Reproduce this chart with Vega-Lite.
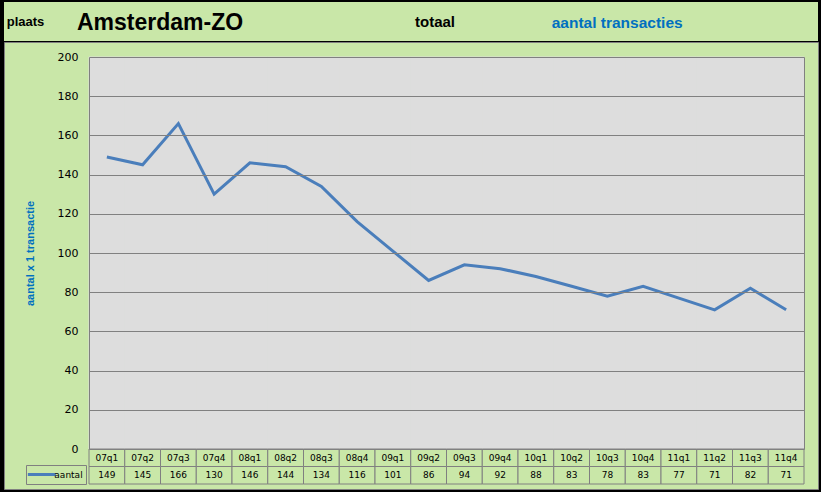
{
  "$schema": "https://vega.github.io/schema/vega-lite/v6.json",
  "background": "#000000",
  "padding": {"left": 3, "top": 2, "right": 4, "bottom": 4},
  "config": {
    "view": {"fill": "#c9e7a8", "stroke": null},
    "font": "Liberation Sans"
  },
  "datasets": {
    "kwartalen": [
      {"kwartaal": "07q1", "aantal": 149},
      {"kwartaal": "07q2", "aantal": 145},
      {"kwartaal": "07q3", "aantal": 166},
      {"kwartaal": "07q4", "aantal": 130},
      {"kwartaal": "08q1", "aantal": 146},
      {"kwartaal": "08q2", "aantal": 144},
      {"kwartaal": "08q3", "aantal": 134},
      {"kwartaal": "08q4", "aantal": 116},
      {"kwartaal": "09q1", "aantal": 101},
      {"kwartaal": "09q2", "aantal": 86},
      {"kwartaal": "09q3", "aantal": 94},
      {"kwartaal": "09q4", "aantal": 92},
      {"kwartaal": "10q1", "aantal": 88},
      {"kwartaal": "10q2", "aantal": 83},
      {"kwartaal": "10q3", "aantal": 78},
      {"kwartaal": "10q4", "aantal": 83},
      {"kwartaal": "11q1", "aantal": 77},
      {"kwartaal": "11q2", "aantal": 71},
      {"kwartaal": "11q3", "aantal": 82},
      {"kwartaal": "11q4", "aantal": 71}
    ]
  },
  "spacing": 0,
  "vconcat": [
    {
      "spacing": 0,
      "hconcat": [
        {"width": 70, "height": 39, "view": {"fill": "#c9e7a8", "stroke": null}, "data": {"values": [{}]}, "mark": {"type": "text", "text": ""}, "encoding": {},
         "title": {"text": "plaats", "anchor": "start", "dx": 2.7, "offset": -36.8, "baseline": "alphabetic", "fontSize": 13, "fontWeight": "bold", "color": "#000000", "font": "Liberation Sans"}},
        {"width": 338, "height": 39, "view": {"fill": "#c9e7a8", "stroke": null}, "data": {"values": [{}]}, "mark": {"type": "text", "text": ""}, "encoding": {},
         "title": {"text": "Amsterdam-ZO", "anchor": "start", "dx": 3, "offset": -50.7, "baseline": "alphabetic", "fontSize": 23, "fontWeight": "bold", "color": "#000000", "font": "Liberation Sans"}},
        {"width": 136, "height": 39, "view": {"fill": "#c9e7a8", "stroke": null}, "data": {"values": [{}]}, "mark": {"type": "text", "text": ""}, "encoding": {},
         "title": {"text": "totaal", "anchor": "start", "dx": 3, "offset": -39.8, "baseline": "alphabetic", "fontSize": 15, "fontWeight": "bold", "color": "#000000", "font": "Liberation Sans"}},
        {"width": 270, "height": 39, "view": {"fill": "#c9e7a8", "stroke": null}, "data": {"values": [{}]}, "mark": {"type": "text", "text": ""}, "encoding": {},
         "title": {"text": "aantal transacties", "anchor": "start", "dx": 3.7, "offset": -41.4, "baseline": "alphabetic", "fontSize": 15.5, "fontWeight": "bold", "color": "#0070c0", "font": "Liberation Sans"}}
      ]
    },
    {
      "width": 814,
      "height": 447,
      "view": {"fill": "#c9e7a8", "stroke": "#808080", "strokeWidth": 1},
      "data": {"name": "kwartalen"},
      "resolve": {"scale": {"y": "independent"}},
      "layer": [
        {
          "mark": {"type": "rect", "fill": "#dddddd", "stroke": "#dddddd", "strokeWidth": 1},
          "encoding": {
            "x": {"field": "kwartaal", "type": "ordinal", "sort": null, "scale": {"type": "band", "range": [85, 800], "paddingInner": 0, "paddingOuter": 0}, "axis": null},
            "y": {"datum": 0, "type": "quantitative", "scale": {"domain": [0, 200], "range": [407, 15]},
                  "axis": {"orient": "right", "offset": -14, "labels": false, "ticks": false, "grid": false, "title": null, "domainColor": "#808080", "zindex": 1}},
            "y2": {"datum": 200}
          }
        },
        {
          "mark": {"type": "line", "strokeWidth": 3},
          "encoding": {
            "x": {"field": "kwartaal", "type": "ordinal", "sort": null, "scale": {"type": "band", "range": [85, 800], "paddingInner": 0, "paddingOuter": 0}, "axis": null},
            "y": {"field": "aantal", "type": "quantitative", "scale": {"domain": [0, 200], "range": [407, 15]},
                  "axis": {"orient": "left", "offset": -85, "tickCount": 10, "ticks": false, "grid": true, "gridColor": "#808080", "gridOpacity": 1, "gridWidth": 1,
                           "domainColor": "#808080", "labelFont": "DejaVu Sans", "labelFontSize": 11, "labelColor": "#000000", "labelPadding": 11,
                           "title": "aantal x 1 transactie", "titleFont": "Liberation Sans", "titleFontSize": 11, "titleFontWeight": "bold", "titleColor": "#0070c0", "titlePadding": 22, "zindex": 1}},
            "color": {"datum": "aantal", "type": "nominal", "scale": {"range": ["#4a7ebb"]},
                      "legend": {"title": null, "orient": "none", "legendX": 22, "legendY": 463, "symbolType": "M-2.8,0H2.8", "symbolSize": 100, "symbolStrokeWidth": 3, "symbolOffset": 6.35,
                                 "labelFont": "DejaVu Sans", "labelFontSize": 9, "labelColor": "#000000", "labelOffset": 6, "padding": 3, "strokeColor": "#808080"}}
          }
        },
        {
          "transform": [{"fold": ["kwartaal", "aantal"], "as": ["rij", "waarde"]}],
          "mark": {"type": "rect", "fill": "#c9e7a8", "stroke": "#808080", "strokeWidth": 1},
          "encoding": {
            "x": {"field": "kwartaal", "type": "ordinal", "sort": null, "scale": {"type": "band", "range": [85, 800], "paddingInner": 0, "paddingOuter": 0}, "axis": null},
            "y": {"field": "rij", "type": "nominal", "scale": {"type": "band", "domain": ["kwartaal", "aantal"], "range": [407, 442], "paddingInner": 0, "paddingOuter": 0}, "axis": null}
          }
        },
        {
          "transform": [{"fold": ["kwartaal", "aantal"], "as": ["rij", "waarde"]}],
          "mark": {"type": "text", "font": "DejaVu Sans", "fontSize": 9, "color": "#000000"},
          "encoding": {
            "x": {"field": "kwartaal", "type": "ordinal", "sort": null, "scale": {"type": "band", "range": [85, 800], "paddingInner": 0, "paddingOuter": 0}, "axis": null},
            "y": {"field": "rij", "type": "nominal", "scale": {"type": "band", "domain": ["kwartaal", "aantal"], "range": [407, 442], "paddingInner": 0, "paddingOuter": 0}, "axis": null},
            "text": {"field": "waarde", "type": "nominal"}
          }
        }
      ]
    }
  ]
}
